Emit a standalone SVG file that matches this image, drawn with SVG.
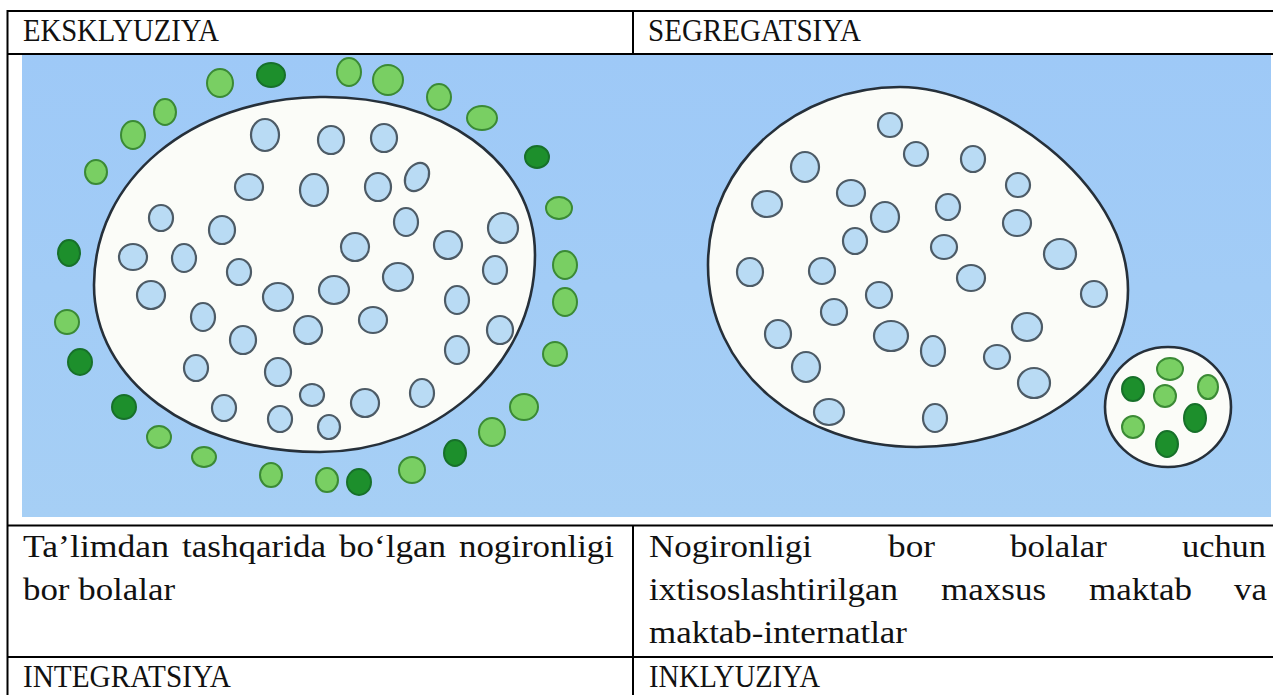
<svg xmlns="http://www.w3.org/2000/svg" width="1273" height="695" viewBox="0 0 1273 695">
<style>
.t{font-family:"Liberation Serif","Times New Roman",serif;font-size:31px;fill:#111}
.ln{stroke:#000;stroke-width:2;fill:none}
.b{fill:#b9dbf4;stroke:#4d5b66;stroke-width:2.2}
.g{fill:#79cf63;stroke:#3b8a35;stroke-width:2}
.d{fill:#1d8f2c;stroke:#17702a;stroke-width:2}
.w{fill:#fbfcf8;stroke:#26303a;stroke-width:2.6}
</style>
<defs>
<linearGradient id="sky" x1="0" y1="0" x2="0" y2="1">
<stop offset="0" stop-color="#9ec9f7"/>
<stop offset="1" stop-color="#a6cff5"/>
</linearGradient>
</defs>
<rect width="1273" height="695" fill="#fff"/>
<g id="picture">
<rect x="22" y="55" width="1249" height="462" fill="url(#sky)"/>
<g id="exclusion">
<path class="w" d="M320,97 C440,95 535,160 535,255 C535,370 430,452 320,452 C190,452 94,380 94,285 C94,180 190,99 320,97 Z"/>
<g>
<ellipse class="b" cx="265" cy="135" rx="14" ry="16"/>
<ellipse class="b" cx="331" cy="140" rx="13" ry="14"/>
<ellipse class="b" cx="384" cy="138" rx="13" ry="14"/>
<ellipse class="b" cx="249" cy="187" rx="14" ry="13"/>
<ellipse class="b" cx="314" cy="190" rx="14" ry="16"/>
<ellipse class="b" cx="378" cy="187" rx="13" ry="14"/>
<ellipse class="b" cx="417" cy="177" rx="11" ry="15" transform="rotate(30 417 177)"/>
<ellipse class="b" cx="161" cy="218" rx="12" ry="13"/>
<ellipse class="b" cx="222" cy="230" rx="13" ry="14"/>
<ellipse class="b" cx="406" cy="222" rx="12" ry="14"/>
<ellipse class="b" cx="503" cy="228" rx="15" ry="15"/>
<ellipse class="b" cx="133" cy="257" rx="14" ry="13"/>
<ellipse class="b" cx="184" cy="258" rx="12" ry="14"/>
<ellipse class="b" cx="355" cy="247" rx="14" ry="14"/>
<ellipse class="b" cx="448" cy="245" rx="14" ry="14"/>
<ellipse class="b" cx="239" cy="272" rx="12" ry="13"/>
<ellipse class="b" cx="398" cy="277" rx="15" ry="14"/>
<ellipse class="b" cx="495" cy="270" rx="12" ry="14"/>
<ellipse class="b" cx="151" cy="295" rx="14" ry="14"/>
<ellipse class="b" cx="278" cy="297" rx="15" ry="14"/>
<ellipse class="b" cx="334" cy="290" rx="15" ry="14"/>
<ellipse class="b" cx="457" cy="300" rx="12" ry="14"/>
<ellipse class="b" cx="203" cy="317" rx="12" ry="14"/>
<ellipse class="b" cx="373" cy="320" rx="14" ry="13"/>
<ellipse class="b" cx="308" cy="330" rx="14" ry="14"/>
<ellipse class="b" cx="500" cy="330" rx="13" ry="14"/>
<ellipse class="b" cx="243" cy="340" rx="13" ry="14"/>
<ellipse class="b" cx="457" cy="350" rx="12" ry="14"/>
<ellipse class="b" cx="196" cy="368" rx="12" ry="13"/>
<ellipse class="b" cx="278" cy="372" rx="13" ry="14"/>
<ellipse class="b" cx="224" cy="408" rx="12" ry="13"/>
<ellipse class="b" cx="312" cy="395" rx="12" ry="11"/>
<ellipse class="b" cx="365" cy="403" rx="14" ry="14"/>
<ellipse class="b" cx="422" cy="393" rx="12" ry="14"/>
<ellipse class="b" cx="280" cy="419" rx="12" ry="13"/>
<ellipse class="b" cx="329" cy="427" rx="11" ry="12"/>
</g>
<g>
<ellipse class="g" cx="220" cy="83" rx="13" ry="14"/>
<ellipse class="d" cx="271" cy="75" rx="14" ry="12"/>
<ellipse class="g" cx="349" cy="72" rx="12" ry="14"/>
<ellipse class="g" cx="388" cy="80" rx="15" ry="15"/>
<ellipse class="g" cx="439" cy="97" rx="12" ry="13"/>
<ellipse class="g" cx="482" cy="118" rx="15" ry="12"/>
<ellipse class="g" cx="165" cy="112" rx="11" ry="13"/>
<ellipse class="g" cx="133" cy="135" rx="12" ry="14"/>
<ellipse class="g" cx="96" cy="172" rx="11" ry="12"/>
<ellipse class="d" cx="537" cy="157" rx="12" ry="11"/>
<ellipse class="g" cx="559" cy="208" rx="13" ry="11"/>
<ellipse class="d" cx="69" cy="253" rx="11" ry="13"/>
<ellipse class="g" cx="565" cy="265" rx="12" ry="14"/>
<ellipse class="g" cx="565" cy="302" rx="12" ry="14"/>
<ellipse class="g" cx="67" cy="322" rx="12" ry="12"/>
<ellipse class="g" cx="555" cy="354" rx="12" ry="12"/>
<ellipse class="d" cx="80" cy="362" rx="12" ry="13"/>
<ellipse class="d" cx="124" cy="407" rx="12" ry="12"/>
<ellipse class="g" cx="159" cy="437" rx="12" ry="11"/>
<ellipse class="g" cx="204" cy="457" rx="12" ry="10"/>
<ellipse class="g" cx="271" cy="475" rx="11" ry="12"/>
<ellipse class="g" cx="327" cy="480" rx="11" ry="12"/>
<ellipse class="d" cx="359" cy="482" rx="12" ry="13"/>
<ellipse class="g" cx="412" cy="470" rx="13" ry="13"/>
<ellipse class="d" cx="455" cy="453" rx="11" ry="13"/>
<ellipse class="g" cx="492" cy="432" rx="13" ry="14"/>
<ellipse class="g" cx="524" cy="407" rx="14" ry="13"/>
</g>
</g>
<g id="segregation">
<path class="w" d="M900,87 C990,87 1128,180 1128,290 C1128,390 1020,447 917,447 C800,447 708,370 708,265 C708,160 800,87 900,87 Z"/>
<g>
<ellipse class="b" cx="890" cy="125" rx="12" ry="12"/>
<ellipse class="b" cx="916" cy="154" rx="12" ry="12"/>
<ellipse class="b" cx="973" cy="159" rx="12" ry="13"/>
<ellipse class="b" cx="805" cy="167" rx="14" ry="15"/>
<ellipse class="b" cx="1018" cy="185" rx="12" ry="12"/>
<ellipse class="b" cx="767" cy="204" rx="15" ry="13"/>
<ellipse class="b" cx="851" cy="193" rx="14" ry="13"/>
<ellipse class="b" cx="948" cy="207" rx="12" ry="13"/>
<ellipse class="b" cx="885" cy="217" rx="14" ry="15"/>
<ellipse class="b" cx="1017" cy="223" rx="14" ry="13"/>
<ellipse class="b" cx="855" cy="241" rx="12" ry="13"/>
<ellipse class="b" cx="944" cy="247" rx="13" ry="12"/>
<ellipse class="b" cx="1060" cy="254" rx="16" ry="15"/>
<ellipse class="b" cx="750" cy="272" rx="13" ry="14"/>
<ellipse class="b" cx="822" cy="271" rx="13" ry="13"/>
<ellipse class="b" cx="971" cy="278" rx="14" ry="13"/>
<ellipse class="b" cx="1094" cy="294" rx="13" ry="13"/>
<ellipse class="b" cx="879" cy="295" rx="13" ry="13"/>
<ellipse class="b" cx="834" cy="312" rx="13" ry="13"/>
<ellipse class="b" cx="1027" cy="327" rx="15" ry="14"/>
<ellipse class="b" cx="778" cy="334" rx="13" ry="14"/>
<ellipse class="b" cx="891" cy="336" rx="17" ry="15"/>
<ellipse class="b" cx="933" cy="351" rx="12" ry="15"/>
<ellipse class="b" cx="997" cy="357" rx="13" ry="12"/>
<ellipse class="b" cx="806" cy="367" rx="14" ry="15"/>
<ellipse class="b" cx="1034" cy="383" rx="16" ry="15"/>
<ellipse class="b" cx="829" cy="412" rx="15" ry="13"/>
<ellipse class="b" cx="935" cy="418" rx="12" ry="14"/>
</g>
<ellipse class="w" cx="1168" cy="407" rx="63" ry="60"/>
<g>
<ellipse class="g" cx="1170" cy="369" rx="13" ry="11"/>
<ellipse class="d" cx="1133" cy="389" rx="11" ry="12"/>
<ellipse class="g" cx="1165" cy="396" rx="11" ry="11"/>
<ellipse class="g" cx="1208" cy="387" rx="10" ry="12"/>
<ellipse class="d" cx="1195" cy="418" rx="11" ry="14"/>
<ellipse class="g" cx="1133" cy="427" rx="11" ry="11"/>
<ellipse class="d" cx="1167" cy="444" rx="11" ry="13"/>
</g>
</g>
</g>
<g id="table">
<line class="ln" x1="7" y1="11" x2="1273" y2="11"/>
<line class="ln" x1="7" y1="54" x2="1273" y2="54"/>
<line class="ln" x1="7" y1="525.5" x2="1273" y2="525.5"/>
<line class="ln" x1="7" y1="657" x2="1273" y2="657"/>
<line class="ln" x1="7.5" y1="10" x2="7.5" y2="695"/>
<line class="ln" x1="633" y1="10" x2="633" y2="54"/>
<line class="ln" x1="633" y1="525" x2="633" y2="695"/>
</g>
<g id="headers">
<text class="t" x="23" y="41" textLength="196" lengthAdjust="spacingAndGlyphs">EKSKLYUZIYA</text>
<text class="t" x="648" y="41" textLength="213" lengthAdjust="spacingAndGlyphs">SEGREGATSIYA</text>
</g>
<g id="cell-left">
<text class="t" x="23" y="557" textLength="146" lengthAdjust="spacingAndGlyphs">Ta’limdan</text>
<text class="t" x="182" y="557" textLength="144" lengthAdjust="spacingAndGlyphs">tashqarida</text>
<text class="t" x="339" y="557" textLength="107" lengthAdjust="spacingAndGlyphs">bo‘lgan</text>
<text class="t" x="459" y="557" textLength="155" lengthAdjust="spacingAndGlyphs">nogironligi</text>
<text class="t" x="23" y="600" textLength="152" lengthAdjust="spacingAndGlyphs">bor bolalar</text>
</g>
<g id="cell-right">
<text class="t" x="649" y="557" textLength="163" lengthAdjust="spacingAndGlyphs">Nogironligi</text>
<text class="t" x="888" y="557" textLength="47" lengthAdjust="spacingAndGlyphs">bor</text>
<text class="t" x="1010" y="557" textLength="97" lengthAdjust="spacingAndGlyphs">bolalar</text>
<text class="t" x="1182" y="557" textLength="84" lengthAdjust="spacingAndGlyphs">uchun</text>
<text class="t" x="649" y="600" textLength="249" lengthAdjust="spacingAndGlyphs">ixtisoslashtirilgan</text>
<text class="t" x="941" y="600" textLength="105" lengthAdjust="spacingAndGlyphs">maxsus</text>
<text class="t" x="1089" y="600" textLength="103" lengthAdjust="spacingAndGlyphs">maktab</text>
<text class="t" x="1234" y="600" textLength="33" lengthAdjust="spacingAndGlyphs">va</text>
<text class="t" x="649" y="643" textLength="258" lengthAdjust="spacingAndGlyphs">maktab-internatlar</text>
</g>
<g id="footers">
<text class="t" x="23" y="687" textLength="208" lengthAdjust="spacingAndGlyphs">INTEGRATSIYA</text>
<text class="t" x="649" y="687" textLength="171" lengthAdjust="spacingAndGlyphs">INKLYUZIYA</text>
</g>
</svg>
